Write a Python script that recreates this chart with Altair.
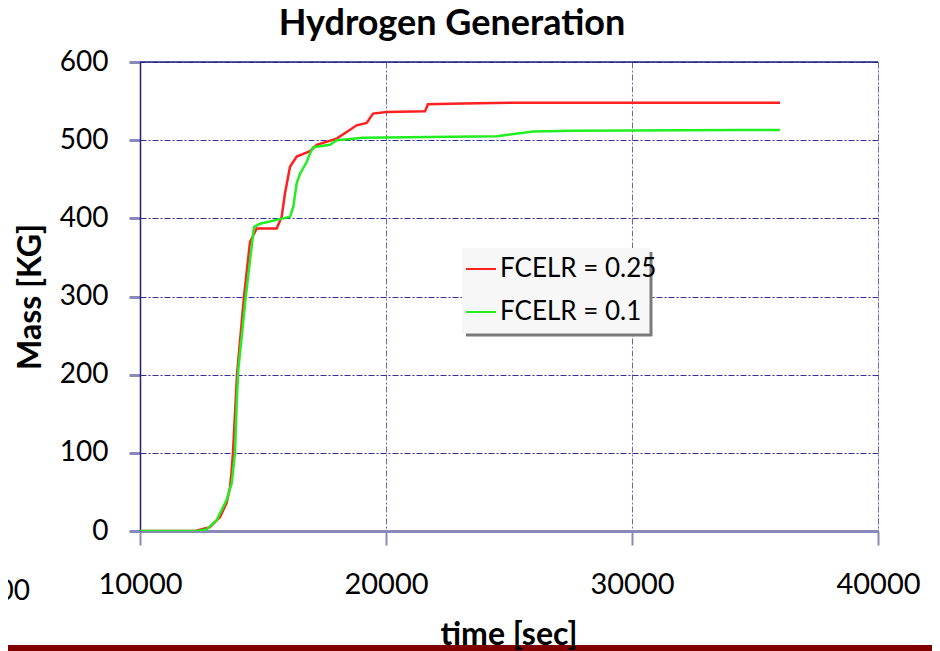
import altair as alt
import pandas as pd

# ---- data ----
red_label = "FCELR = 0.25"
green_label = "FCELR = 0.1"
x_title = "time [sec]"
y_title = "Mass [KG]"
chart_title = "Hydrogen Generation"

red_t = [10000, 12236, 12846, 13252, 13524, 13659, 13728, 13780, 13943, 14228, 14472,
         14744, 15557, 15760, 15894, 16098, 16370, 16911, 17183, 17996, 18809, 19215,
         19471, 20028, 21585, 21707, 23130, 25040, 36016]
red_m = [0, 0, 5, 18, 36, 56, 78, 100, 200, 300, 370,
         387, 387, 402, 432, 466, 479, 486, 494, 502, 519, 522,
         534, 536, 537, 546, 547, 548, 548]

green_t = [10000, 12300, 12711, 13118, 13524, 13728, 13862, 13931, 13996, 14300, 14472,
           14634, 14878, 15557, 16098, 16232, 16370, 16504, 16776, 16911, 17044, 17724,
           17996, 19078, 21788, 24500, 25989, 27617, 34390, 36016]
green_m = [0, 0, 2, 14, 40, 61, 100, 164, 206, 300, 346,
           389, 393, 398, 402, 415, 445, 457, 472, 483, 491, 494,
           500, 503, 504, 505, 511, 512, 513, 513]

x_ticks = [10000, 20000, 30000, 40000]
y_ticks = [0, 100, 200, 300, 400, 500, 600]

rows = []
for i, (t, m) in enumerate(zip(red_t, red_m)):
    rows.append({"time": t, "mass": m, "series": red_label, "ord": i})
for i, (t, m) in enumerate(zip(green_t, green_m)):
    rows.append({"time": t, "mass": m, "series": green_label, "ord": i})
df = pd.DataFrame(rows)

W, H = 738, 469
FONT = "Lato"
BG = "#f7f7f7"
one = pd.DataFrame({"a": [0]})

legend_bg = alt.Chart(one).mark_rect(color=BG).encode(
    x=alt.value(322), x2=alt.value(510), y=alt.value(186), y2=alt.value(272))

lines = alt.Chart(df).mark_line(strokeWidth=2.5, clip=True).encode(
    x=alt.X("time:Q", scale=alt.Scale(domain=[10000, 40000], nice=False),
            axis=alt.Axis(values=x_ticks, title=None, format="d",
                          labelFlush=False, labelOverlap=False,
                          labelFontSize=29, labelFont=FONT, labelColor="black",
                          labelPadding=25, tickSize=14, tickColor="#8a8ab8", tickWidth=2,
                          domainColor="#8a8ab8", domainWidth=3,
                          gridColor="#6868c0", gridDash=[6, 2, 2, 2], gridWidth=1)),
    y=alt.Y("mass:Q", scale=alt.Scale(domain=[0, 600], nice=False),
            axis=alt.Axis(values=y_ticks, title=y_title,
                          labelFontSize=28, labelFont=FONT, labelColor="black",
                          labelPadding=21, tickSize=11, tickColor="#8a8ab8", tickWidth=3,
                          domainColor="#202080", domainWidth=1.5,
                          gridColor="#3030a0", gridDash=[6, 2, 2, 2], gridWidth=1,
                          titleFontSize=32, titleFont=FONT, titleFontWeight="bold",
                          titleColor="black", titlePadding=12)),
    color=alt.Color("series:N",
                    scale=alt.Scale(domain=[red_label, green_label],
                                    range=["#ff2020", "#22ee22"]),
                    legend=alt.Legend(title=None, orient="none", legendX=320, legendY=186,
                                      padding=5,
                                      symbolType="stroke", symbolSize=900,
                                      symbolStrokeWidth=2, labelFontSize=26,
                                      labelFont=FONT, labelColor="black", labelOffset=3,
                                      rowPadding=14)),
    order="ord:Q",
    detail="series:N",
)

top_rule = alt.Chart(one).mark_rule(color="#202080", strokeWidth=1.5).encode(
    x=alt.value(0), x2=alt.value(W), y=alt.value(0))

shadow_r = alt.Chart(one).mark_rule(color="#7a7a7a", strokeWidth=3).encode(
    x=alt.value(511), y=alt.value(190), y2=alt.value(274))
shadow_b = alt.Chart(one).mark_rule(color="#7a7a7a", strokeWidth=3).encode(
    x=alt.value(326), x2=alt.value(512), y=alt.value(273))

stray = alt.Chart(one).mark_text(text="00", fontSize=28, font=FONT, align="right",
                                 baseline="middle", color="black").encode(
    x=alt.value(-110), y=alt.value(530))

bar = alt.Chart(one).mark_rect(color="#800000").encode(
    x=alt.value(-140), x2=alt.value(800), y=alt.value(583), y2=alt.value(589))

xtitle = alt.Chart(one).mark_text(text=x_title, fontSize=32, font=FONT,
                                  fontWeight="bold", align="center",
                                  baseline="alphabetic", color="black").encode(
    x=alt.value(W / 2), y=alt.value(583))

chart = alt.layer(legend_bg, lines, top_rule, shadow_r, shadow_b, stray, bar,
                  xtitle).properties(
    width=W, height=H,
    title=alt.TitleParams(chart_title, fontSize=36, font=FONT,
                          fontWeight="bold", color="black", anchor="middle",
                          dx=-57, offset=5),
    autosize=alt.AutoSizeParams(type="none"),
    padding={"left": 132, "top": 54, "right": 54, "bottom": 120},
).configure_view(fill=BG, stroke=None).configure(background="white")

chart.save("out.html", embed_options={"renderer": "svg", "actions": False})
